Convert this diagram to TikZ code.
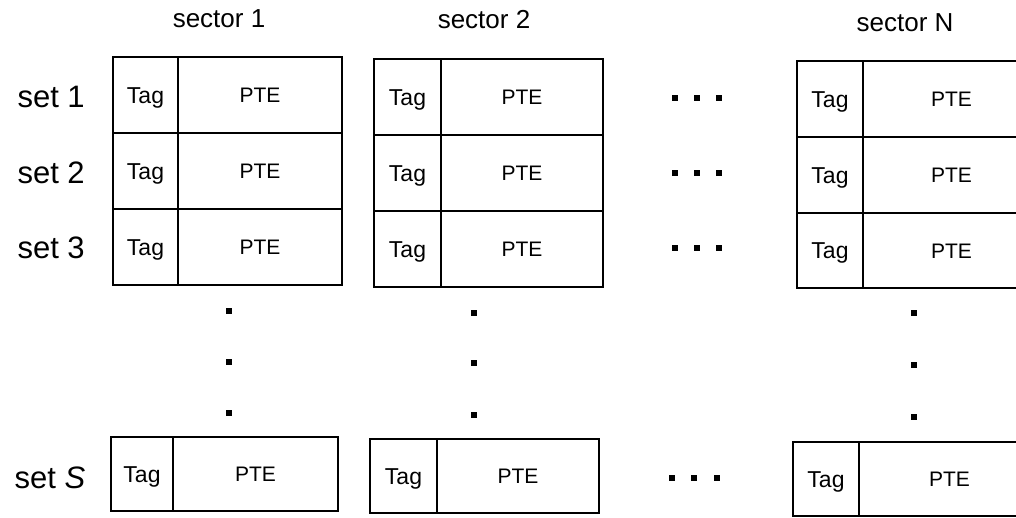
\documentclass[tikz,border=0pt]{standalone}
\usepackage{fontspec}
\setmainfont{Liberation Sans}
\begin{document}
\begin{tikzpicture}[x=1pt,y=-1pt,
  cell/.style={draw, line width=1.1pt, rectangle, inner sep=0pt},
  tagtxt/.style={font=\fontsize{23}{23}\selectfont, text height=16.5pt, text depth=0pt},
  ptetxt/.style={font=\fontsize{21}{21}\selectfont, text height=15pt, text depth=0pt},
  sectlbl/.style={font=\fontsize{26}{26}\selectfont, anchor=base},
  setlbl/.style={font=\fontsize{31}{31}\selectfont, anchor=base west},
  dotsq/.style={rectangle, fill=black, inner sep=0pt, minimum size=6pt}]
\useasboundingbox (0,0) rectangle (1016,517);
\clip (0,0) rectangle (1016,517);
% sector labels
\node[sectlbl] (sec1) at (219,27) {sector 1};
\node[sectlbl] (sec2) at (484,28) {sector 2};
\node[sectlbl] (secN) at (905,31) {sector N};
% set labels
\node[setlbl] (set1) at (14,107) {set 1};
\node[setlbl] (set2) at (14,183) {set 2};
\node[setlbl] (set3) at (14,258) {set 3};
\node[setlbl] (setS) at (11,488) {set \textit{S}};
% top blocks (three rows each)
\foreach \s/\xl/\xt/\xr/\ya/\yb/\yc/\yd in
  {1/113/178/342/57/133/209/285, 2/374/441/603/59/135/211/287, N/797/863/1040/61/137/213/288} {
  \foreach \r/\yt/\ybt in {1/\ya/\yb, 2/\yb/\yc, 3/\yc/\yd} {
    \node[cell, tagtxt, minimum width={(\xt-\xl)*1pt}, minimum height={(\ybt-\yt)*1pt}]
      (tag\s\r) at ({(\xl+\xt)/2},{(\yt+\ybt)/2}) {Tag};
    \node[cell, ptetxt, minimum width={(\xr-\xt)*1pt}, minimum height={(\ybt-\yt)*1pt}]
      (pte\s\r) at ({(\xt+\xr)/2},{(\yt+\ybt)/2}) {PTE};
  }
}
% bottom row (set S)
\foreach \s/\xl/\xt/\xr/\yt/\ybt in
  {1/111/173/338/437/511, 2/370/437/599/439/513, N/793/859/1040/442/516} {
  \node[cell, tagtxt, minimum width={(\xt-\xl)*1pt}, minimum height={(\ybt-\yt)*1pt}]
    (tag\s S) at ({(\xl+\xt)/2},{(\yt+\ybt)/2}) {Tag};
  \node[cell, ptetxt, minimum width={(\xr-\xt)*1pt}, minimum height={(\ybt-\yt)*1pt}]
    (pte\s S) at ({(\xt+\xr)/2},{(\yt+\ybt)/2}) {PTE};
}
% horizontal ellipsis dots
\foreach \r/\y in {1/98, 2/173, 3/248} {
  \foreach \k/\x in {a/675, b/697, c/719} {
    \node[dotsq] (hd\r\k) at (\x,\y) {};
  }
}
\foreach \k/\x in {a/672, b/694, c/717} {
  \node[dotsq] (hdS\k) at (\x,478) {};
}
% vertical ellipsis dots
\foreach \s/\x/\ya/\yb/\yc in {1/229/311/362/413, 2/474/313/363/415, N/914/313/365/417} {
  \node[dotsq] (vd\s a) at (\x,\ya) {};
  \node[dotsq] (vd\s b) at (\x,\yb) {};
  \node[dotsq] (vd\s c) at (\x,\yc) {};
}
\end{tikzpicture}
\end{document}
